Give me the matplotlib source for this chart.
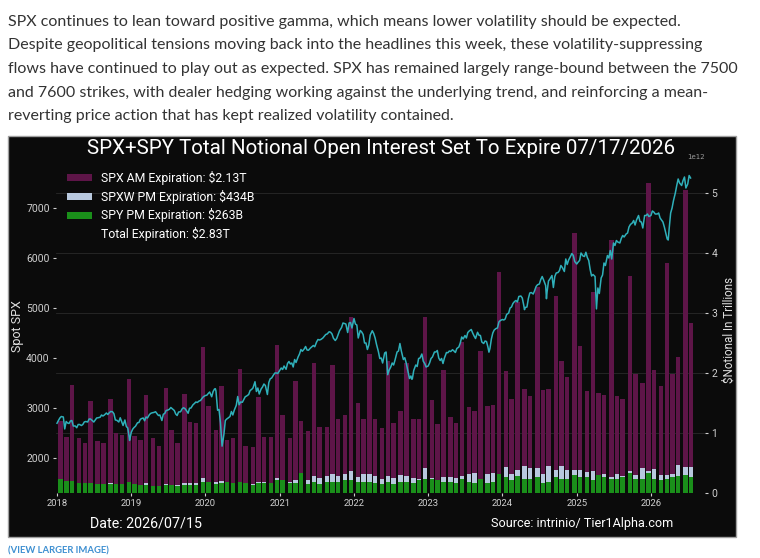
import matplotlib
matplotlib.use('Agg')
import matplotlib.pyplot as plt
import matplotlib.dates as mdates
from matplotlib.patches import Rectangle
from matplotlib.ticker import MultipleLocator, FixedLocator
import numpy as np
import pandas as pd

# ---- data ----
# monthly expirations (3rd Friday), notional open interest in $ trillions
total_oi = (
    [1.20, 0.93, 1.80, 0.91, 0.83, 1.54, 0.87, 0.84, 1.57, 1.00, 0.97, 1.90]    # 2018
    + [0.95, 0.88, 1.64, 0.92, 0.79, 1.75, 1.05, 0.83, 1.65, 1.19, 1.17, 2.44]  # 2019
    + [1.45, 1.05, 1.78, 0.89, 0.92, 2.07, 0.78, 0.76, 1.60, 0.94, 0.93, 2.47]  # 2020
    + [1.30, 0.91, 1.87, 1.20, 1.03, 2.16, 1.10, 1.10, 2.13, 1.23, 1.30, 2.93]  # 2021
    + [1.50, 1.24, 2.32, 1.23, 1.08, 2.20, 1.16, 1.36, 2.16, 1.24, 1.23, 2.94]  # 2022
    + [1.55, 1.15, 2.05, 1.26, 1.16, 2.52, 1.43, 1.37, 2.36, 1.45, 1.47, 3.69]  # 2023
    + [2.03, 1.57, 3.19, 1.73, 1.62, 3.44, 1.72, 1.73, 3.28, 2.20, 1.93, 4.34]  # 2024
    + [2.45, 1.70, 3.35, 1.67, 1.63, 4.21, 1.61, 1.57, 3.61, 1.98, 1.84, 5.17]  # 2025
    + [2.05, 1.79, 3.83, 1.98, 2.26, 5.05, 2.83]                                # 2026
)
spxw_oi = (
    [0.05, 0.05, 0.06, 0.05, 0.05, 0.07, 0.06, 0.06, 0.17, 0.07, 0.07, 0.12]
    + [0.08, 0.08, 0.16, 0.08, 0.08, 0.15, 0.14, 0.14, 0.16, 0.16, 0.175, 0.257]
    + [0.12, 0.18, 0.20, 0.10, 0.10, 0.14, 0.10, 0.15, 0.18, 0.18, 0.12, 0.25]
    + [0.15, 0.19, 0.21, 0.18, 0.22, 0.29, 0.255, 0.28, 0.32, 0.29, 0.32, 0.36]
    + [0.26, 0.32, 0.32, 0.29, 0.23, 0.29, 0.255, 0.30, 0.29, 0.25, 0.23, 0.41]
    + [0.25, 0.20, 0.27, 0.26, 0.25, 0.28, 0.31, 0.34, 0.20, 0.31, 0.33, 0.25]
    + [0.43, 0.32, 0.39, 0.45, 0.41, 0.41, 0.31, 0.45, 0.38, 0.45, 0.39, 0.39]
    + [0.38, 0.35, 0.36, 0.25, 0.31, 0.27, 0.31, 0.28, 0.36, 0.30, 0.41, 0.36]
    + [0.40, 0.30, 0.30, 0.31, 0.46, 0.44, 0.434]
)
spy_oi = (
    [0.23, 0.20, 0.20, 0.17, 0.16, 0.16, 0.15, 0.15, 0.15, 0.15, 0.15, 0.19]
    + [0.15, 0.13, 0.13, 0.12, 0.12, 0.13, 0.13, 0.12, 0.13, 0.13, 0.13, 0.19]
    + [0.19, 0.15, 0.17, 0.18, 0.17, 0.19, 0.16, 0.14, 0.16, 0.16, 0.16, 0.22]
    + [0.21, 0.16, 0.16, 0.33, 0.15, 0.19, 0.15, 0.19, 0.18, 0.18, 0.21, 0.21]
    + [0.18, 0.18, 0.19, 0.17, 0.15, 0.19, 0.15, 0.18, 0.19, 0.17, 0.22, 0.23]
    + [0.23, 0.21, 0.19, 0.19, 0.17, 0.24, 0.19, 0.17, 0.24, 0.17, 0.19, 0.32]
    + [0.27, 0.22, 0.29, 0.23, 0.23, 0.26, 0.17, 0.19, 0.26, 0.23, 0.24, 0.30]
    + [0.27, 0.27, 0.21, 0.30, 0.27, 0.24, 0.24, 0.27, 0.33, 0.24, 0.23, 0.33]
    + [0.23, 0.22, 0.24, 0.27, 0.28, 0.30, 0.263]
)

# spot SPX on the 1st and 15th of each month
spx_2018 = [2695, 2800, 2820, 2730, 2690, 2750, 2640, 2670, 2650, 2720, 2720, 2780,
            2720, 2800, 2815, 2840, 2900, 2905, 2925, 2760, 2720, 2730, 2760, 2600]
spx_2019 = [2510, 2610, 2705, 2775, 2800, 2820, 2870, 2905, 2925, 2850, 2750, 2890,
            2960, 3010, 2950, 2850, 2925, 3005, 2940, 2995, 3065, 3120, 3140, 3190]
spx_2020 = [3250, 3290, 3225, 3380, 2955, 2710, 2470, 2780, 2830, 2860, 3055, 3065,
            3115, 3225, 3270, 3370, 3525, 3400, 3380, 3480, 3270, 3585, 3660, 3700]
spx_2021 = [3755, 3770, 3775, 3930, 3900, 3970, 4020, 4170, 4180, 4160, 4200, 4250,
            4320, 4360, 4400, 4470, 4525, 4480, 4350, 4470, 4610, 4690, 4510, 4710]
spx_2022 = [4790, 4660, 4550, 4470, 4300, 4260, 4545, 4400, 4130, 4000, 4100, 3730,
            3820, 3860, 4120, 4290, 3970, 3900, 3590, 3580, 3860, 3990, 4080, 3890]
spx_2023 = [3840, 3990, 4120, 4150, 3950, 3890, 4110, 4140, 4165, 4110, 4220, 4420,
            4450, 4510, 4570, 4440, 4515, 4450, 4290, 4330, 4190, 4500, 4590, 4720]
spx_2024 = [4770, 4780, 4900, 5020, 5130, 5120, 5240, 5060, 5020, 5300, 5280, 5430,
            5480, 5630, 5450, 5540, 5650, 5630, 5710, 5850, 5730, 5870, 6030, 6050]
spx_2025 = [5880, 5950, 6040, 6115, 5950, 5640, 5630, 5400, 5600, 5900, 6050, 6150,
            6300, 6350, 6300, 6450, 6480, 6620, 6700, 6660, 6850, 6720, 6850, 6880]
spx_2026 = [6850, 6920, 6880, 6800, 6720, 6500, 6600, 7000, 7300, 7580, 7450, 7620,
            7480, 7600]

# spot SPX on the 8th and 22nd of each month
spx_mid_2018 = [2750, 2830, 2581, 2700, 2740, 2640, 2605, 2670, 2670, 2730, 2780, 2755,
                2760, 2805, 2860, 2860, 2870, 2930, 2885, 2755, 2805, 2650, 2630, 2420]
spx_mid_2019 = [2575, 2635, 2710, 2790, 2745, 2800, 2895, 2910, 2885, 2860, 2875, 2950,
                2975, 2985, 2880, 2920, 2980, 2990, 2895, 3000, 3090, 3110, 3150, 3225]
spx_mid_2020 = [3255, 3320, 3330, 3340, 2970, 2300, 2750, 2800, 2930, 2955, 3230, 3120,
                3170, 3240, 3350, 3400, 3330, 3280, 3420, 3450, 3510, 3600, 3700, 3690]
spx_mid_2021 = [3800, 3840, 3890, 3880, 3820, 3910, 4080, 4135, 4230, 4155, 4225, 4225,
                4370, 4370, 4435, 4480, 4515, 4395, 4390, 4545, 4700, 4680, 4700, 4600]
spx_mid_2022 = [4680, 4400, 4520, 4300, 4170, 4460, 4490, 4270, 3990, 3900, 4120, 3750,
                3900, 3960, 4140, 4140, 4005, 3760, 3640, 3750, 3830, 4000, 3935, 3820]
spx_mid_2023 = [3900, 4020, 4120, 4000, 3990, 4000, 4105, 4130, 4140, 4190, 4300, 4380,
                4400, 4540, 4500, 4390, 4455, 4320, 4340, 4220, 4380, 4560, 4600, 4750]
spx_mid_2024 = [4760, 4870, 5000, 5090, 5150, 5230, 5200, 5010, 5190, 5310, 5350, 5465,
                5570, 5560, 5320, 5580, 5410, 5700, 5750, 5810, 5980, 5960, 6090, 5930]
spx_mid_2025 = [5920, 6100, 6030, 6010, 5770, 5670, 4982, 5290, 5660, 5850, 6000, 5980,
                6250, 6320, 6390, 6420, 6500, 6670, 6750, 6760, 6730, 6600, 6850, 6830]
spx_mid_2026 = [6940, 6880, 6900, 6760, 6620, 6380, 6900, 7150, 7450, 7500, 7550, 7400,
                7650]

# a few extreme closes between those dates
spx_extra_dates = ['2018-12-24', '2020-02-19', '2020-03-23', '2022-06-16', '2022-10-12',
                   '2023-10-27', '2024-04-19', '2024-08-05', '2026-03-27']
spx_extra_vals = [2351, 3386, 2237, 3666, 3577, 4117, 4967, 5186, 6360]

legend_labels = ['SPX AM Expiration: $2.13T', 'SPXW PM Expiration: $434B',
                 'SPY PM Expiration: $263B', 'Total Expiration: $2.83T']

paragraph = [
    "SPX continues to lean toward positive gamma, which means lower volatility should be expected.",
    "Despite geopolitical tensions moving back into the headlines this week, these volatility-suppressing",
    "flows have continued to play out as expected. SPX has remained largely range-bound between the 7500",
    "and 7600 strikes, with dealer hedging working against the underlying trend, and reinforcing a mean-",
    "reverting price action that has kept realized volatility contained.",
]

# ---- build series ----
expiries = pd.date_range('2018-01-01', '2026-07-31', freq='WOM-3FRI')
total_oi = np.array(total_oi) * 1e12
spxw_oi = np.array(spxw_oi) * 1e12
spy_oi = np.array(spy_oi) * 1e12

spx_dates = pd.date_range('2018-01-01', '2026-07-15', freq='SMS')
spx_vals = spx_2018 + spx_2019 + spx_2020 + spx_2021 + spx_2022 + spx_2023 + spx_2024 + spx_2025 + spx_2026
mid_vals = (spx_mid_2018 + spx_mid_2019 + spx_mid_2020 + spx_mid_2021 + spx_mid_2022
            + spx_mid_2023 + spx_mid_2024 + spx_mid_2025 + spx_mid_2026)
mid_dates = [pd.Timestamp(y, m, d) for y in range(2018, 2027) for m in range(1, 13) for d in (8, 22)]
mid_dates = mid_dates[:len(mid_vals)]
spx = pd.concat([pd.Series(spx_vals, index=spx_dates),
                 pd.Series(mid_vals, index=mid_dates),
                 pd.Series(spx_extra_vals, index=pd.to_datetime(spx_extra_dates))]).sort_index()

# ---- figure ----
W, H = 760, 558
fig = plt.figure(figsize=(W / 100, H / 100), dpi=100, facecolor='white')
renderer = fig.canvas.get_renderer()


def fx(px):
    return px / W


def fy(py):
    return 1 - py / H


def fit(t, target, vertical=False):
    bb = t.get_window_extent(renderer)
    size = bb.height if vertical else bb.width
    t.set_fontsize(t.get_fontsize() * target / size)
    return t


purple = '#5e1548'
lightblue = '#b8c8de'
green = '#1a8f1a'
cyan = '#2fb0ba'
tickc = '#cfcfcf'

# article text
line_y = [22, 45.5, 69, 92.5, 116]
lines = []
for s, yy in zip(paragraph, line_y):
    lines.append(fig.text(fx(8), fy(yy), s, fontsize=11, family='Lato',
                          color='#333333', va='center', ha='left'))
fit(lines[2], 728)
for t in lines:
    t.set_fontsize(lines[2].get_fontsize())

# dark chart panel
fig.add_artist(Rectangle((fx(8), fy(537)), fx(736) - fx(8), fy(136) - fy(537),
                         transform=fig.transFigure, facecolor='#0b0b0b',
                         edgecolor='#a0a0a0', linewidth=1, zorder=-1))

ax = fig.add_axes([fx(56), fy(493), fx(705) - fx(56), fy(163) - fy(493)])
ax2 = ax.twinx()
ax.set_zorder(ax2.get_zorder() + 1)
ax.patch.set_visible(False)
ax2.patch.set_visible(False)

ax2.bar(expiries, total_oi, width=22, color=purple, zorder=2)
ax2.bar(expiries, spxw_oi, width=22, color=lightblue, zorder=3)
ax2.bar(expiries, spy_oi, width=22, color=green, zorder=4)
ax2.set_ylim(0, 5.5e12)
ax2.yaxis.set_major_locator(MultipleLocator(1e12))
ax2.set_axisbelow(True)
ax2.yaxis.grid(True, color='#2a2a2a', linewidth=0.6)

ax.plot(spx.index, spx.values, color=cyan, linewidth=1.1)
ax.set_ylim(1300, 7900)
ax.yaxis.set_major_locator(FixedLocator([2000, 3000, 4000, 5000, 6000, 7000]))

ax.set_xlim(pd.Timestamp('2017-12-27'), pd.Timestamp('2026-09-24'))
ax.xaxis.set_major_locator(mdates.YearLocator())
ax.xaxis.set_major_formatter(mdates.DateFormatter('%Y'))

for a in (ax, ax2):
    for sp in a.spines.values():
        sp.set_visible(False)
ax.tick_params(axis='y', colors=tickc, labelsize=7.5, length=2.5, width=0.8, pad=2)
ax.tick_params(axis='x', colors=tickc, labelsize=6.8, length=2.5, width=0.8, pad=2)
ax2.tick_params(axis='y', colors=tickc, labelsize=7.5, length=2.5, width=0.8, pad=2)
ax2.yaxis.get_offset_text().set_fontsize(5)
ax2.yaxis.get_offset_text().set_color('#9a9a9a')
for lab in ax.get_xticklabels() + ax.get_yticklabels() + ax2.get_yticklabels():
    lab.set_family('Roboto')

# title and labels inside the panel
title = fig.text(fx(381.5), fy(149), 'SPX+SPY Total Notional Open Interest Set To Expire 07/17/2026',
                 color='white', family='Roboto', fontsize=14, ha='center', va='center')
fit(title, 591)

t = fig.text(fx(17.5), fy(326), 'Spot SPX', color='#e0e0e0', family='Roboto',
             fontsize=8, rotation=90, ha='center', va='center')
fit(t, 52, vertical=True)
t = fig.text(fx(729.5), fy(330), '$Notional In Trillions', color='#e0e0e0', family='Roboto',
             fontsize=8, rotation=90, ha='center', va='center')
fit(t, 107, vertical=True)

# legend
leg_y = [177.7, 196.7, 215.2, 234.3]
leg_colors = [purple, lightblue, green, None]
leg_texts = []
for lab, yy, c in zip(legend_labels, leg_y, leg_colors):
    if c is not None:
        fig.add_artist(Rectangle((fx(67), fy(yy + 3.5)), fx(92) - fx(67), 7 / H,
                                 transform=fig.transFigure, facecolor=c, edgecolor='none'))
    leg_texts.append(fig.text(fx(101), fy(yy), lab, color='white', family='Roboto',
                              fontsize=8, ha='left', va='center'))
fit(leg_texts[0], 146)
for tt in leg_texts:
    tt.set_fontsize(leg_texts[0].get_fontsize())

t = fig.text(fx(90), fy(524), 'Date: 2026/07/15', color='white', family='Roboto',
             fontsize=9, ha='left', va='center')
fit(t, 112)
t = fig.text(fx(491), fy(524), 'Source: intrinio/ Tier1Alpha.com', color='white', family='Roboto',
             fontsize=9, ha='left', va='center')
fit(t, 182)

t = fig.text(fx(8), fy(551), '(VIEW LARGER IMAGE)', color='#3d8fd1', family='Lato',
             fontweight='bold', fontsize=7, ha='left', va='center')
fit(t, 101)

fig.savefig('out.png', dpi=100, facecolor='white')
